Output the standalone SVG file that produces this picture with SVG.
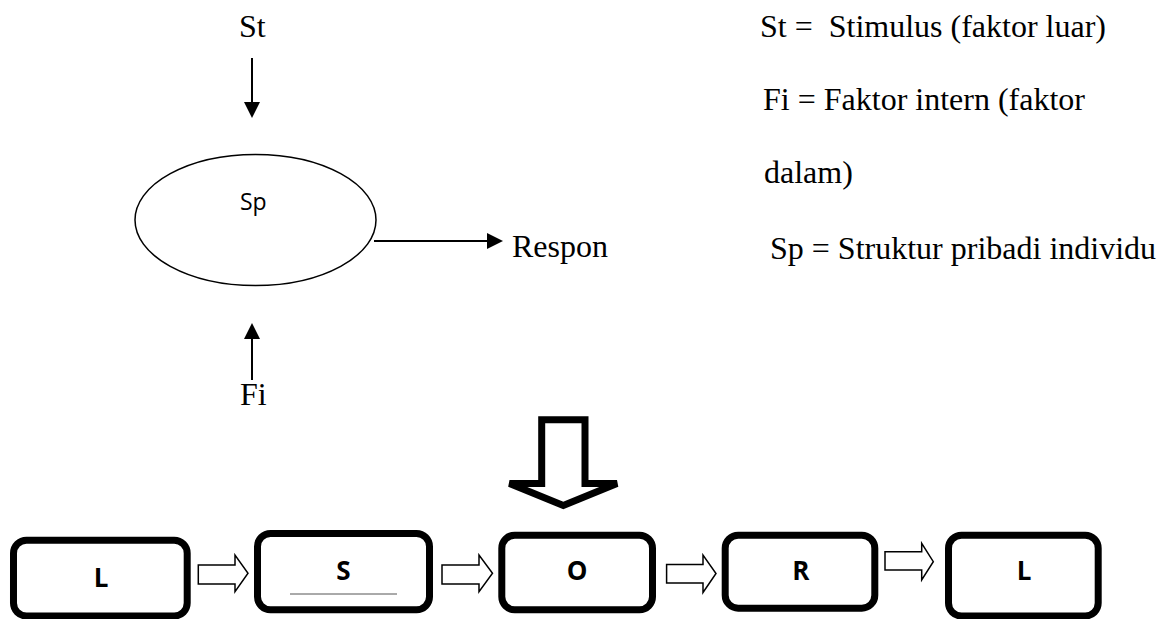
<svg xmlns="http://www.w3.org/2000/svg" width="1165" height="619" viewBox="0 0 1165 619">
<style>
.serif{font-family:"Liberation Serif","Times New Roman",serif;font-size:32px;fill:#000;white-space:pre}
.sans{font-family:"Open Sans","Liberation Sans",sans-serif;font-size:23px;fill:#000}
.bold{font-family:"Open Sans","Liberation Sans",sans-serif;font-size:26px;font-weight:bold;fill:#000;text-anchor:middle}
.box{fill:#fff;stroke:#000;stroke-width:7}
.conn{stroke:#000;stroke-width:2;fill:none}
.hollow{fill:#fff;stroke:#000;stroke-width:1.5;stroke-linejoin:miter}
</style>
<defs>
<marker id="ah" viewBox="0 0 16 16" refX="0" refY="8" markerWidth="16" markerHeight="16" markerUnits="userSpaceOnUse" orient="auto">
<path d="M0,0 L16,8 L0,16 z" fill="#000"/>
</marker>
</defs>
<rect width="1165" height="619" fill="#fff"/>

<g id="label-st"><text class="serif" x="239" y="37">St</text></g>
<g id="node-sp">
<ellipse cx="255.5" cy="220" rx="120.5" ry="65.5" fill="#fff" stroke="#000" stroke-width="1.5"/>
<text class="sans" x="240" y="209.5">Sp</text>
</g>
<g id="label-respon"><text class="serif" x="512" y="257">Respon</text></g>
<g id="label-fi"><text class="serif" x="240" y="405">Fi</text></g>

<g id="legend">
<text class="serif" x="760" y="37">St =  Stimulus (faktor luar)</text>
<text class="serif" x="763" y="110">Fi = Faktor intern (faktor</text>
<text class="serif" x="764" y="183">dalam)</text>
<text class="serif" x="770" y="259">Sp = Struktur pribadi individu</text>
</g>

<g id="connectors">
<line class="conn" x1="252" y1="58" x2="252" y2="102" marker-end="url(#ah)"/>
<line class="conn" x1="374" y1="241" x2="487" y2="241" marker-end="url(#ah)"/>
<line class="conn" x1="252" y1="380" x2="252" y2="339" marker-end="url(#ah)"/>
<polygon points="541.7,419.7 585,419.7 585,483.5 617,483.5 563.3,505.5 509.5,483.5 541.7,483.5" fill="#fff" stroke="#000" stroke-width="7" stroke-linejoin="miter"/>
<polygon class="hollow" points="198.3,565 235,565 235,555 248,573.3 235,591.7 235,584 198.3,584"/>
<polygon class="hollow" points="442,565 479,565 479,555 492.5,573.3 479,591.7 479,584 442,584"/>
<polygon class="hollow" points="666.6,564.5 703,564.5 703,555 716,573.5 703,592.5 703,583 666.6,583"/>
<polygon class="hollow" points="885,551.7 921.7,551.7 921.7,543.3 933.3,561.7 921.7,580 921.7,570 885,570"/>
</g>

<g id="box-l1">
<rect class="box" x="13.5" y="540.2" width="173.7" height="75.8" rx="13"/>
<text class="bold" x="101" y="587">L</text>
</g>
<g id="box-s">
<rect class="box" x="257.5" y="533.5" width="172" height="76.3" rx="13"/>
<text class="bold" x="343.5" y="580">S</text>
<line x1="290" y1="594" x2="397" y2="594" stroke="#555" stroke-width="1"/>
</g>
<g id="box-o">
<rect class="box" x="501.8" y="535.2" width="150.7" height="74.6" rx="13"/>
<text class="bold" x="577" y="580">O</text>
</g>
<g id="box-r">
<rect class="box" x="725.2" y="535.2" width="149.6" height="73" rx="13"/>
<text class="bold" x="800.8" y="580">R</text>
</g>
<g id="box-l2">
<rect class="box" x="948.5" y="535.2" width="149.7" height="80.8" rx="13"/>
<text class="bold" x="1024" y="580">L</text>
</g>
</svg>
